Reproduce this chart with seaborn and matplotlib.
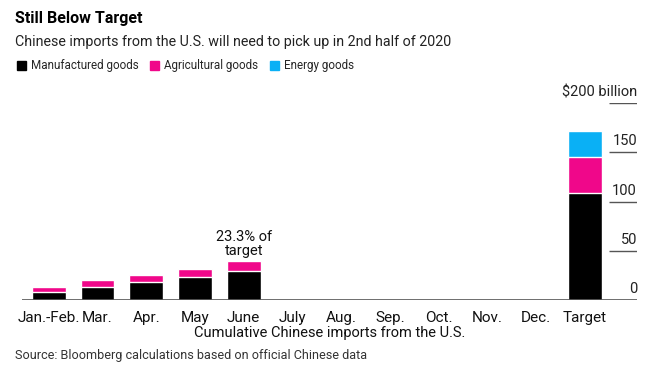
import numpy as np
import pandas as pd
import matplotlib
matplotlib.use("Agg")
import matplotlib.pyplot as plt
import matplotlib.patches as mpatches
import seaborn as sns

# data (billion USD, cumulative)
months = ['Jan.-Feb.', 'Mar.', 'Apr.', 'May', 'June', 'July', 'Aug.',
          'Sep.', 'Oct.', 'Nov.', 'Dec.', 'Target']
manufactured = [8.1, 13.5, 18.7, 23.0, 29.1, 0, 0, 0, 0, 0, 0, 109.0]
agricultural = [4.8, 6.5, 7.1, 8.9, 10.2, 0, 0, 0, 0, 0, 0, 36.6]
energy = [0, 0, 0, 0, 0, 0, 0, 0, 0, 0, 0, 26.3]
y_ticks = [0, 50, 100, 150, 200]
y_labels = ['0', '50', '100', '150', '$200 billion']

c_man = '#000000'
c_agr = '#f0078a'
c_ene = '#0ab0f5'

df = pd.DataFrame({'month': months, 'man': manufactured,
                   'agr': agricultural, 'ene': energy})
df['man_agr'] = df['man'] + df['agr']
df['total'] = df['man_agr'] + df['ene']

sns.set_style('white')
plt.rcParams['font.family'] = ['Roboto', 'DejaVu Sans']

fig = plt.figure(figsize=(6.57, 3.75), dpi=100)
ax = fig.add_axes([22 / 657, 75 / 375, 615 / 657, 197 / 375])

# stacked bars: draw cumulative totals back to front
sns.barplot(data=df, x='month', y='total', color=c_ene, width=0.69,
            saturation=1, ax=ax)
sns.barplot(data=df, x='month', y='man_agr', color=c_agr, width=0.69,
            saturation=1, ax=ax)
sns.barplot(data=df, x='month', y='man', color=c_man, width=0.69,
            saturation=1, ax=ax)

ax.set_xlim(-0.55, len(months) - 1 + 1.07)
ax.set_ylim(0, 200)
for s in ax.spines.values():
    s.set_visible(False)
ax.axhline(0, color='#555555', lw=1.2, zorder=5)
ax.set_yticks([])
ax.tick_params(axis='x', length=0, labelsize=11, pad=8, colors='#111111')
ax.set_xlabel('Cumulative Chinese imports from the U.S.', fontsize=10.5,
              color='#111111', labelpad=1)
ax.set_ylabel('')

# right-side value scale
x0 = len(months) - 1 + 0.49
x1 = len(months) - 1 + 1.07
for v, lab in zip(y_ticks, y_labels):
    if v > 0:
        ax.hlines(v, x0, x1, color='#555555', lw=1)
    ax.text(x1, v + 4, lab, ha='right', va='bottom', fontsize=10.5,
            color='#222222')

# annotation on June
j = months.index('June')
ax.text(j, df['total'][j] + 3, '23.3% of\ntarget', ha='center',
        va='bottom', fontsize=10.5, linespacing=1.0, color='#111111')

fig.text(15 / 657, 1 - 18 / 375, 'Still Below Target', fontsize=11.5,
         fontweight='bold', va='center', ha='left', color='#000000')
fig.text(15 / 657, 1 - 42 / 375,
         'Chinese imports from the U.S. will need to pick up in 2nd half of 2020',
         fontsize=10.3, va='center', ha='left', color='#222222')
fig.text(15 / 657, 1 - 356 / 375,
         'Source: Bloomberg calculations based on official Chinese data',
         fontsize=9.1, va='center', ha='left', color='#333333')

handles = [mpatches.Patch(color=c_man, label='Manufactured goods'),
           mpatches.Patch(color=c_agr, label='Agricultural goods'),
           mpatches.Patch(color=c_ene, label='Energy goods')]
fig.legend(handles=handles, loc='center left',
           bbox_to_anchor=(12 / 657, 1 - 66 / 375), ncol=3, frameon=False,
           fontsize=8.4, handlelength=0.8, handleheight=0.8,
           handletextpad=0.4, columnspacing=1.0, borderaxespad=0)

fig.savefig('out.png', dpi=100)
